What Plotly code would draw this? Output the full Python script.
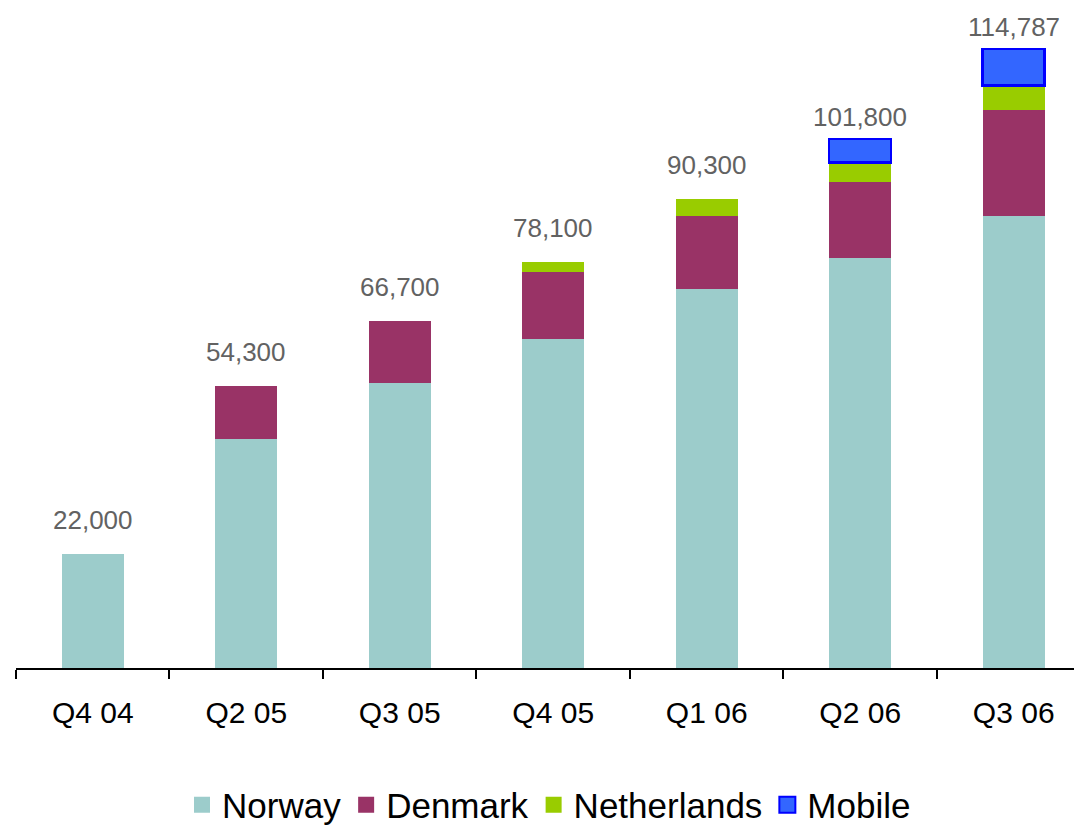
import plotly.graph_objects as go

quarters = ["Q4 04", "Q2 05", "Q3 05", "Q4 05", "Q1 06", "Q2 06", "Q3 06"]
norway = [22000, 44100, 54900, 63400, 73000, 79000, 87100]
denmark = [0, 10200, 11800, 12900, 14000, 14500, 20400]
netherlands = [0, 0, 0, 1800, 3300, 3800, 4600]
mobile = [0, 0, 0, 0, 0, 4500, 7100]
total_labels = ["22,000", "54,300", "66,700", "78,100", "90,300", "101,800", "114,787"]

series = [
    ("Norway", norway, "#9CCCCB", None),
    ("Denmark", denmark, "#993366", None),
    ("Netherlands", netherlands, "#99CC00", None),
    ("Mobile", mobile, "#3366FF", "#0000FF"),
]

FONT = "Liberation Sans, Arial, sans-serif"
fig = go.Figure()
for name, vals, color, line in series:
    yv = [v if v > 0 else None for v in vals]
    fig.add_trace(go.Bar(
        x=quarters, y=yv, name=name, width=0.404,
        marker=dict(color=color,
                    line=dict(color=line if line else color, width=2.5 if line else 0)),
        showlegend=False,
    ))
    # legend-only proxy with a bigger swatch
    fig.add_trace(go.Scatter(
        x=[None], y=[None], mode="markers", name=name,
        marker=dict(symbol="square", size=16, color=color,
                    line=dict(color=line if line else color, width=2 if line else 0)),
        showlegend=True,
    ))

tops = [sum(s[1][i] for s in series) for i in range(len(quarters))]
for q, top, lab, mob in zip(quarters, tops, total_labels, mobile):
    fig.add_annotation(x=q, y=top, text=lab, showarrow=False,
                       yanchor="middle", yshift=(22 if mob > 0 else 34),
                       font=dict(family=FONT, size=26, color="#626262"))

fig.update_layout(
    barmode="stack",
    width=1074, height=818,
    margin=dict(l=8, r=0, t=0, b=158, autoexpand=False),
    paper_bgcolor="white", plot_bgcolor="white",
    font=dict(family=FONT, color="black"),
    showlegend=True,
    legend=dict(orientation="h", x=0.5, xanchor="center", y=-0.2076, yanchor="middle",
                traceorder="normal",
                font=dict(family=FONT, size=35, color="black"),
                itemclick=False, tracegroupgap=0),
    xaxis=dict(type="category", categoryorder="array", categoryarray=quarters,
               range=[-0.5, 6.445], showline=True, linecolor="black", linewidth=2,
               ticks="outside", tickson="boundaries", ticklen=9, tickwidth=2,
               tickcolor="black", showgrid=False, zeroline=False,
               ticklabelstandoff=17,
               tickfont=dict(family=FONT, size=30, color="black")),
    yaxis=dict(range=[0, 127045], visible=False, showgrid=False, zeroline=False),
)

fig.write_html("out.html")
